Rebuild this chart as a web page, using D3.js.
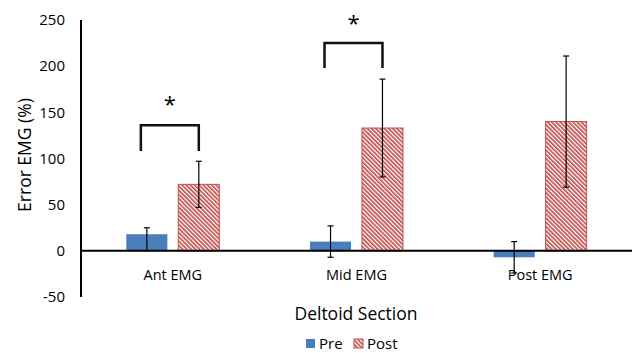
<!DOCTYPE html>
<html>
<head>
<meta charset="utf-8">
<script src="https://cdn.jsdelivr.net/npm/d3@7"></script>
<style>
  body { margin: 0; background: #fff; }
  text { font-family: "Open Sans", "Noto Sans", sans-serif; fill: #000; }
</style>
</head>
<body>
<svg id="chart" width="633" height="353"></svg>
<script>
// data
var categories = ['Ant EMG', 'Mid EMG', 'Post EMG'];
var seriesNames = ['Pre', 'Post'];
var preValues = [18, 10, -7];
var preErrUp = [7, 17, 17];
var preErrDown = [18, 17, 17];
var postValues = [72, 133, 140];
var postErr = [25, 53, 71];
var yTicks = [-50, 0, 50, 100, 150, 200, 250];
// significance brackets: category index, top of bracket, bottom of legs, star position
var sigIndex = [0, 1];
var sigTop = [136, 225];
var sigLeg = [108, 198];
var sigStar = [167, 255];

var svg = d3.select('#chart');

var y = d3.scaleLinear().domain([-50, 250]).range([297, 20]);
var x0 = d3.scaleBand().domain(categories).range([81, 632]);
var x1 = d3.scaleBand().domain(seriesNames).range([0, 93]).paddingInner(0.21);
var groupOff = (x0.bandwidth() - 93) / 2;

var colors = { Pre: '#4a7ebb', Post: '#c0504d' };

// hatch pattern for Post bars
var defs = svg.append('defs');
var pat = defs.append('pattern').attr('id', 'hatch')
  .attr('patternUnits', 'userSpaceOnUse').attr('width', 3).attr('height', 3)
  .attr('patternTransform', 'rotate(-45)');
pat.append('rect').attr('width', 3).attr('height', 3).attr('fill', '#fff');
pat.append('rect').attr('width', 1.7).attr('height', 3).attr('fill', '#c0504d');

var rows = categories.map(function(c, i) {
  return [
    { cat: c, s: 'Pre', v: preValues[i], up: preErrUp[i], down: preErrDown[i] },
    { cat: c, s: 'Post', v: postValues[i], up: postErr[i], down: postErr[i] }
  ];
});
var bars = d3.merge(rows);

function bx(d) { return x0(d.cat) + groupOff + x1(d.s); }

svg.selectAll('rect.bar').data(bars).enter().append('rect')
  .attr('class', 'bar')
  .attr('x', bx)
  .attr('width', x1.bandwidth())
  .attr('y', function(d) { return y(Math.max(0, d.v)); })
  .attr('height', function(d) { return Math.abs(y(d.v) - y(0)); })
  .attr('fill', function(d) { return d.s === 'Pre' ? colors.Pre : 'url(#hatch)'; })
  .attr('stroke', function(d) { return d.s === 'Pre' ? 'none' : colors.Post; })
  .attr('stroke-width', 1);

// axes lines
svg.append('line').attr('x1', 81).attr('x2', 81).attr('y1', y(250)).attr('y2', y(-50))
  .attr('stroke', '#000').attr('stroke-width', 2);
svg.append('line').attr('x1', 81).attr('x2', 632).attr('y1', y(0)).attr('y2', y(0))
  .attr('stroke', '#000').attr('stroke-width', 2);

// error bars
var eb = svg.selectAll('g.err').data(bars).enter().append('g').attr('class', 'err');
eb.append('line')
  .attr('x1', function(d) { return bx(d) + x1.bandwidth() / 2; })
  .attr('x2', function(d) { return bx(d) + x1.bandwidth() / 2; })
  .attr('y1', function(d) { return y(d.v + d.up); })
  .attr('y2', function(d) { return y(d.v - d.down); })
  .attr('stroke', '#000').attr('stroke-width', 1.2);
['up', 'down'].forEach(function(k) {
  eb.append('line')
    .attr('x1', function(d) { return bx(d) + x1.bandwidth() / 2 - 3; })
    .attr('x2', function(d) { return bx(d) + x1.bandwidth() / 2 + 3; })
    .attr('y1', function(d) { return y(k === 'up' ? d.v + d.up : d.v - d.down); })
    .attr('y2', function(d) { return y(k === 'up' ? d.v + d.up : d.v - d.down); })
    .attr('stroke', '#000').attr('stroke-width', 1.2);
});

// y tick labels
svg.selectAll('text.ytick').data(yTicks).enter().append('text')
  .attr('class', 'ytick')
  .attr('x', 65).attr('y', function(d) { return y(d); })
  .attr('dy', '0.35em').attr('text-anchor', 'end')
  .style('font-size', '15px')
  .text(function(d) { return d; });

// category labels
svg.selectAll('text.xtick').data(categories).enter().append('text')
  .attr('class', 'xtick')
  .attr('x', function(d) { return x0(d) + x0.bandwidth() / 2; })
  .attr('y', 280).attr('text-anchor', 'middle')
  .style('font-size', '14.5px')
  .text(function(d) { return d; });

// titles
svg.append('text').attr('transform', 'translate(31,155) rotate(-90)')
  .attr('text-anchor', 'middle').style('font-size', '17.5px').text('Error EMG (%)');
svg.append('text').attr('x', 356).attr('y', 320)
  .attr('text-anchor', 'middle').style('font-size', '17.5px').text('Deltoid Section');

// significance brackets
sigIndex.forEach(function(ci, i) {
  var c = categories[ci];
  var xa = x0(c) + groupOff + x1('Pre') + x1.bandwidth() / 2 - 6;
  var xb = x0(c) + groupOff + x1('Post') + x1.bandwidth() / 2;
  svg.append('path')
    .attr('d', 'M' + xa + ',' + y(sigLeg[i]) + 'V' + y(sigTop[i]) + 'H' + xb + 'V' + y(sigLeg[i]))
    .attr('fill', 'none').attr('stroke', '#111').attr('stroke-width', 2.5);
  svg.append('text').attr('x', (xa + xb) / 2).attr('y', y(sigStar[i]))
    .attr('dy', '0.7em').attr('text-anchor', 'middle')
    .style('font-size', '22px').text('*');
});

// legend
var lg = svg.append('g');
var legX = [306, 354];
seriesNames.forEach(function(s, i) {
  lg.append('rect').attr('x', legX[i]).attr('y', 339).attr('width', 9).attr('height', 9)
    .attr('fill', s === 'Pre' ? colors.Pre : 'url(#hatch)')
    .attr('stroke', s === 'Pre' ? 'none' : colors.Post);
  lg.append('text').attr('x', legX[i] + 13).attr('y', 348.5)
    .style('font-size', '15px').text(s);
});
</script>
</body>
</html>
